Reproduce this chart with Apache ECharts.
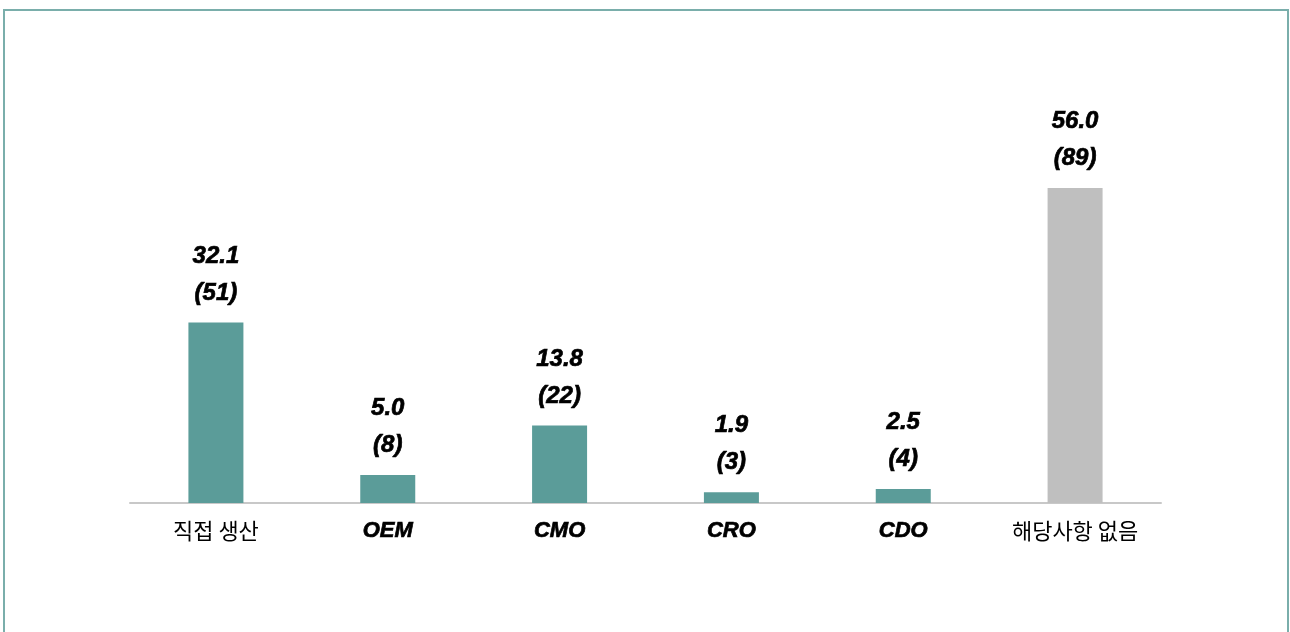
<!DOCTYPE html>
<html>
<head>
<meta charset="utf-8">
<script src="https://cdn.jsdelivr.net/npm/echarts@6/dist/echarts.min.js"></script>
<style>
html,body{margin:0;padding:0;background:#fff;}
#c{width:1290px;height:632px;}
</style>
</head>
<body>
<div id="c"></div>
<script>
const categories = ['직접 생산', 'OEM', 'CMO', 'CRO', 'CDO', '해당사항 없음'];
const percents = [32.1, 5.0, 13.8, 1.9, 2.5, 56.0];
const counts = [51, 8, 22, 3, 4, 89];

const chart = echarts.init(document.getElementById('c'));
const latin = /^[A-Za-z]+$/;
chart.setOption({
  animation: false,
  backgroundColor: '#ffffff',
  graphic: [{
    type: 'rect',
    shape: { x: 4, y: 10, width: 1284, height: 640 },
    style: { fill: 'none', stroke: '#7aaeab', lineWidth: 2 },
    silent: true
  }],
  grid: { left: 130, right: 129, top: 165.5, bottom: 129 },
  xAxis: {
    type: 'category',
    data: categories,
    axisLine: { lineStyle: { color: '#c8c8c8', width: 2 } },
    axisTick: { show: false },
    axisLabel: {
      margin: 17,
      interval: 0,
      formatter: function (v) { return latin.test(v) ? '{en|' + v + '}' : '{ko|' + v + '}'; },
      rich: {
        en: { fontFamily: 'Liberation Sans, Arial, sans-serif', fontWeight: 'bold', fontStyle: 'italic', fontSize: 22, color: '#000', textBorderColor: '#000', textBorderWidth: 0.7 },
        ko: { fontFamily: 'Noto Sans CJK KR, sans-serif', fontSize: 22, color: '#000' }
      }
    }
  },
  yAxis: {
    type: 'value', min: 0, max: 60, show: false,
    splitLine: { show: false }
  },
  series: [{
    type: 'bar',
    barWidth: 55,
    data: percents,
    itemStyle: {
      color: function (p) { return p.dataIndex === categories.length - 1 ? '#bfbfbf' : '#5b9c99'; }
    },
    label: {
      show: true,
      position: 'top',
      distance: 11,
      formatter: function (p) { return p.value.toFixed(1) + '\n(' + counts[p.dataIndex] + ')'; },
      fontFamily: 'Liberation Sans, Arial, sans-serif',
      fontWeight: 'bold',
      fontStyle: 'italic',
      fontSize: 24,
      lineHeight: 37,
      color: '#000',
      textBorderColor: '#000',
      textBorderWidth: 0.7
    }
  }]
});
</script>
</body>
</html>
